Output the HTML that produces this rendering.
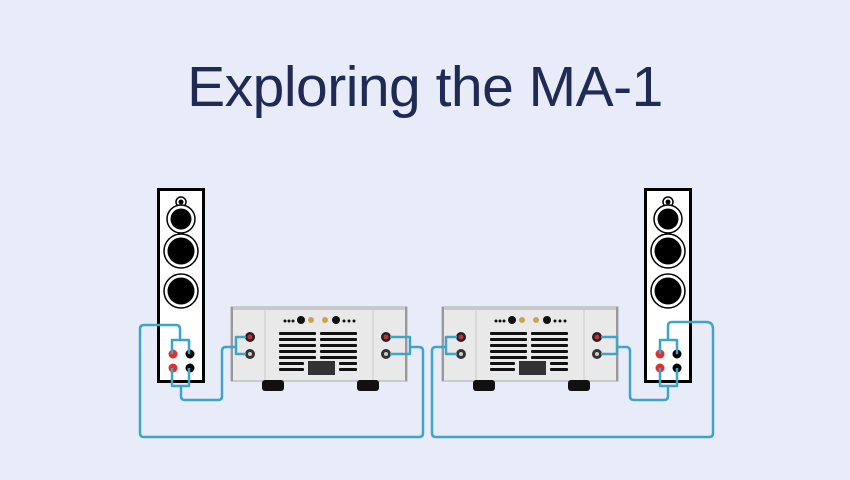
<!DOCTYPE html>
<html><head><meta charset="utf-8"><style>
html,body{margin:0;padding:0;background:#e8ebf8;}
.t{position:absolute;left:0;top:54px;width:850px;text-align:center;font-family:"Liberation Sans","DejaVu Sans",sans-serif;font-size:57px;line-height:66px;color:#1f2a55;letter-spacing:-0.5px;}
</style></head><body>
<div style="position:relative;width:850px;height:480px;overflow:hidden">
<div class="t">Exploring the MA-1</div>
<svg width="850" height="480" style="position:absolute;left:0;top:0">
<defs>
<g id="spk">
<rect x="1.5" y="1.5" width="45" height="192" fill="#fff" stroke="#000" stroke-width="3"/>
<circle cx="24" cy="14" r="5" fill="#fff" stroke="#000" stroke-width="1.5"/><circle cx="24" cy="14" r="2.5" fill="#000"/>
<circle cx="24" cy="31" r="14" fill="#fff" stroke="#000" stroke-width="1.5"/><circle cx="24" cy="31" r="10.5" fill="#000"/>
<circle cx="24" cy="63" r="17" fill="#fff" stroke="#000" stroke-width="1.5"/><circle cx="24" cy="63" r="13.5" fill="#000"/>
<circle cx="24" cy="103" r="17" fill="#fff" stroke="#000" stroke-width="1.5"/><circle cx="24" cy="103" r="13.5" fill="#000"/>
<circle cx="16" cy="166" r="4.5" fill="#e03030"/><circle cx="33" cy="166" r="4.5" fill="#000"/>
<circle cx="16" cy="180" r="4.5" fill="#e03030"/><circle cx="33" cy="180" r="4.5" fill="#000"/>
</g>
<g id="amp">
<rect x="0" y="0" width="176" height="74" fill="#e9e9ea" stroke="#aaa"/>
<rect x="0" y="0" width="176" height="3" fill="#c8c8c8"/>
<rect x="0" y="0" width="2" height="74" fill="#999"/><rect x="174" y="0" width="2" height="74" fill="#999"/>
<line x1="34" y1="3" x2="34" y2="74" stroke="#ccc"/><line x1="142" y1="3" x2="142" y2="74" stroke="#ccc"/>
<g fill="#111">
<rect x="48" y="25" width="37" height="3" rx="1"/><rect x="89" y="25" width="37" height="3" rx="1"/>
<rect x="48" y="31" width="37" height="3" rx="1"/><rect x="89" y="31" width="37" height="3" rx="1"/>
<rect x="48" y="37" width="37" height="3" rx="1"/><rect x="89" y="37" width="37" height="3" rx="1"/>
<rect x="48" y="43" width="37" height="3" rx="1"/><rect x="89" y="43" width="37" height="3" rx="1"/>
<rect x="48" y="49" width="37" height="3" rx="1"/><rect x="89" y="49" width="37" height="3" rx="1"/>
<rect x="48" y="55" width="25" height="3" rx="1"/><rect x="108" y="55" width="18" height="3" rx="1"/>
<rect x="48" y="61" width="25" height="3" rx="1"/><rect x="108" y="61" width="18" height="3" rx="1"/>
<rect x="77" y="54" width="27" height="14" fill="#333"/>
<circle cx="70" cy="13" r="4"/><circle cx="105" cy="13" r="4"/>
<circle cx="80" cy="13" r="3" fill="#c9a54a"/><circle cx="94" cy="13" r="3" fill="#c9a54a"/>
<circle cx="113" cy="14" r="1.5"/><circle cx="118" cy="14" r="1.5"/><circle cx="123" cy="14" r="1.5"/>
<circle cx="54" cy="14" r="1.5"/><circle cx="58" cy="14" r="1.5"/><circle cx="62" cy="14" r="1.5"/>
</g>
<circle cx="19" cy="30" r="5" fill="#222"/><circle cx="19" cy="30" r="2.5" fill="#c03030"/>
<circle cx="19" cy="47" r="5" fill="#333"/><circle cx="19" cy="47" r="2" fill="#ccc"/>
<circle cx="155" cy="30" r="5" fill="#222"/><circle cx="155" cy="30" r="2.5" fill="#c03030"/>
<circle cx="155" cy="47" r="5" fill="#333"/><circle cx="155" cy="47" r="2" fill="#ccc"/>
<rect x="31" y="73" width="22" height="11" rx="3" fill="#111"/><rect x="126" y="73" width="22" height="11" rx="3" fill="#111"/>
</g>
</defs>
<use href="#spk" x="157" y="188"/>
<use href="#spk" x="644" y="188"/>
<use href="#amp" x="231" y="307"/>
<use href="#amp" x="442" y="307"/>
<g fill="none" stroke="#3ea5c9" stroke-width="2.5" stroke-linejoin="round">
<path d="M172 354 V340 H189 V354"/>
<path d="M180 340 V329 Q180 325 176 325 H144 Q140 325 140 329 V433 Q140 437 144 437 H419 Q423 437 423 433 V351 Q423 347 419 347 H410"/>
<path d="M390 337 H410 V354 H390"/>
<path d="M172 368 V386 H189 V368"/>
<path d="M181 386 V396 Q181 400 185 400 H218 Q222 400 222 396 V351 Q222 347 226 347 H236"/>
<path d="M246 337 H236 V354 H246"/>
<path d="M457 337 H446 V354 H457"/>
<path d="M446 347 H436 Q432 347 432 351 V433 Q432 437 436 437 H709 Q713 437 713 433 V329 Q713 322 706 322 H672 Q668 322 668 326 V340"/>
<path d="M660 354 V340 H677 V354"/>
<path d="M601 337 H617 V354 H601"/>
<path d="M617 347 H626 Q630 347 630 351 V396 Q630 400 634 400 H664 Q668 400 668 396 V386"/>
<path d="M660 368 V386 H677 V368"/>
</g>
</svg>
</div>
</body></html>
